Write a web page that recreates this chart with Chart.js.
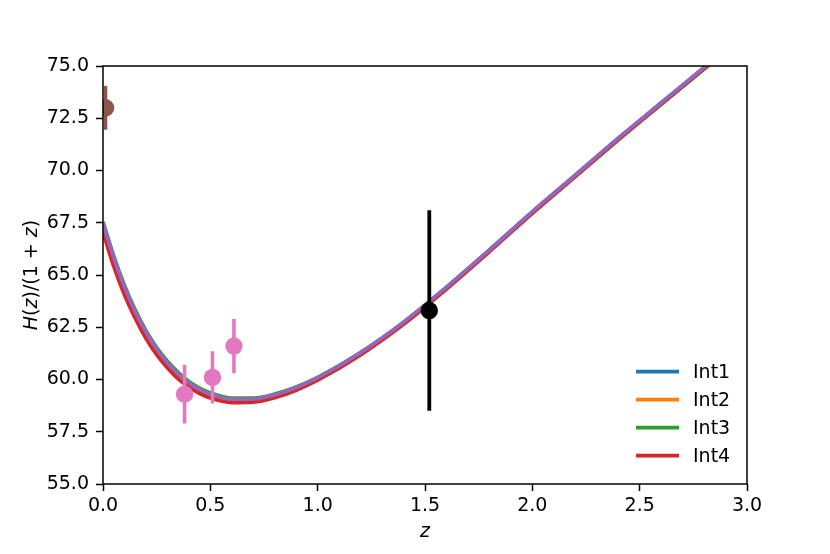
<!DOCTYPE html>
<html>
<head>
<meta charset="utf-8">
<script src="https://cdn.jsdelivr.net/npm/chart.js@4.4.1/dist/chart.umd.min.js"></script>
<style>
  html, body { margin: 0; padding: 0; background: #fff; }
  #wrap { width: 830px; height: 554px; }
</style>
</head>
<body>
<div id="wrap"><canvas id="chart" width="830" height="554"></canvas></div>
<script>
// redshift grid of the model curves
const zGrid = [0, 0.05, 0.1, 0.15, 0.2, 0.25, 0.3, 0.35, 0.4, 0.45, 0.5, 0.6, 0.7, 0.8, 0.9, 1.0, 1.2, 1.4, 1.6, 1.8, 2.0, 2.2, 2.4, 2.6, 2.8, 3.0];

// H(z)/(1+z) for each model
const int1 = [67.45, 65.80, 64.40, 63.23, 62.24, 61.43, 60.78, 60.25, 59.82, 59.51, 59.28, 59.04, 59.05, 59.25, 59.60, 60.07, 61.27, 62.72, 64.41, 66.19, 68.02, 69.77, 71.53, 73.23, 74.92, 76.65];
const int2 = [67.40, 65.76, 64.37, 63.21, 62.22, 61.42, 60.77, 60.24, 59.81, 59.50, 59.27, 59.04, 59.05, 59.25, 59.60, 60.07, 61.27, 62.72, 64.40, 66.18, 68.01, 69.76, 71.52, 73.22, 74.91, 76.64];
const int3 = [67.55, 65.90, 64.50, 63.33, 62.34, 61.53, 60.87, 60.34, 59.90, 59.59, 59.36, 59.11, 59.11, 59.30, 59.64, 60.10, 61.29, 62.73, 64.40, 66.17, 67.99, 69.73, 71.48, 73.17, 74.85, 76.57];
const int4 = [67.05, 65.42, 64.05, 62.93, 61.97, 61.19, 60.56, 60.03, 59.64, 59.33, 59.12, 58.90, 58.92, 59.13, 59.49, 59.97, 61.18, 62.64, 64.33, 66.12, 67.95, 69.71, 71.47, 73.18, 74.87, 76.60];
const reference = [67.50, 65.84, 64.43, 63.26, 62.27, 61.46, 60.80, 60.27, 59.84, 59.53, 59.30, 59.06, 59.07, 59.27, 59.62, 60.09, 61.29, 62.74, 64.42, 66.20, 68.03, 69.78, 71.54, 73.24, 74.93, 76.66];

// measurements
const localZ = [0.012];
const localH = [73.0];
const localErr = [1.05];

const baoZ = [0.38, 0.51, 0.61];
const baoH = [59.3, 60.1, 61.6];
const baoErr = [1.4, 1.25, 1.3];

const highZ = [1.52];
const highH = [63.3];
const highErr = [4.8];

const xTicks = [0, 0.5, 1.0, 1.5, 2.0, 2.5, 3.0];
const yTicks = [55, 57.5, 60, 62.5, 65, 67.5, 70, 72.5, 75];

const FONT = "'DejaVu Sans', sans-serif";

function curve(label, ys, color, order) {
  return {
    type: 'line', label: label,
    data: zGrid.map((z, i) => ({ x: z, y: ys[i] })),
    borderColor: color, backgroundColor: color, borderWidth: 3.8,
    pointRadius: 0, cubicInterpolationMode: 'monotone',
    clip: 0, order: order
  };
}

function errBars(zs, hs, es, color, width) {
  const pts = [];
  zs.forEach((z, i) => {
    pts.push({ x: z, y: hs[i] - es[i] }, { x: z, y: hs[i] + es[i] }, { x: z, y: null });
  });
  return {
    type: 'line', label: '', data: pts, borderColor: color, borderWidth: width,
    pointRadius: 0, spanGaps: false, clip: 0, order: 1, borderCapStyle: 'butt'
  };
}

function points(zs, hs, color) {
  return {
    type: 'scatter', label: '', data: zs.map((z, i) => ({ x: z, y: hs[i] })),
    backgroundColor: color, borderWidth: 0, pointRadius: 8.7, pointHoverRadius: 8.7,
    clip: 0, order: 0
  };
}

const legendItems = [
  { label: 'Int1', color: '#1f77b4' },
  { label: 'Int2', color: '#ff7f0e' },
  { label: 'Int3', color: '#2ca02c' },
  { label: 'Int4', color: '#d62728' }
];

// clip every dataset to the axes box, like matplotlib does
const clipToAxes = {
  id: 'clipToAxes',
  beforeDatasetDraw(chart) {
    const { ctx, chartArea: a } = chart;
    ctx.save();
    ctx.beginPath();
    ctx.rect(a.left, a.top, a.right - a.left, a.bottom - a.top);
    ctx.clip();
  },
  afterDatasetDraw(chart) {
    chart.ctx.restore();
  }
};

const decor = {
  id: 'decor',
  afterDraw(chart) {
    const { ctx, chartArea: a } = chart;
    ctx.save();
    // frame
    ctx.strokeStyle = '#000';
    ctx.lineWidth = 1.5;
    ctx.strokeRect(a.left, a.top, a.right - a.left, a.bottom - a.top);

    // legend
    ctx.font = '19px ' + FONT;
    ctx.textBaseline = 'middle';
    ctx.textAlign = 'left';
    legendItems.forEach((it, i) => {
      const y = a.bottom - 28.3 - 28 * (legendItems.length - 1 - i);
      ctx.strokeStyle = it.color;
      ctx.lineWidth = 3.8;
      ctx.beginPath();
      ctx.moveTo(a.right - 111, y);
      ctx.lineTo(a.right - 68, y);
      ctx.stroke();
      ctx.fillStyle = '#000';
      ctx.fillText(it.label, a.right - 54, y + 1);
    });

    // x title
    ctx.font = 'italic 19px ' + FONT;
    ctx.textAlign = 'center';
    ctx.textBaseline = 'alphabetic';
    ctx.fillText('z', (a.left + a.right) / 2, 537);

    // y title with italic variables
    const parts = [['H', true], ['(', false], ['z', true], [')/(1', false], [' + ', false], ['z', true], [')', false]];
    const fontOf = it => (it ? 'italic ' : '') + '19px ' + FONT;
    let total = 0;
    parts.forEach(p => { ctx.font = fontOf(p[1]); total += ctx.measureText(p[0]).width; });
    ctx.translate(37, (a.top + a.bottom) / 2);
    ctx.rotate(-Math.PI / 2);
    ctx.textAlign = 'left';
    let x = -total / 2;
    parts.forEach(p => {
      ctx.font = fontOf(p[1]);
      ctx.fillText(p[0], x, 0);
      x += ctx.measureText(p[0]).width;
    });
    ctx.restore();
  }
};

new Chart(document.getElementById('chart'), {
  data: {
    datasets: [
      curve('Int1', int1, '#1f77b4', 7),
      curve('Int2', int2, '#ff7f0e', 6),
      curve('Int3', int3, '#2ca02c', 5),
      curve('Int4', int4, '#d62728', 4),
      curve('', reference, '#9467bd', 3),
      errBars(localZ, localH, localErr, '#8c564b', 3.4),
      errBars(baoZ, baoH, baoErr, '#e377c2', 3.6),
      errBars(highZ, highH, highErr, '#000000', 3.8),
      points(localZ, localH, '#8c564b'),
      points(baoZ, baoH, '#e377c2'),
      points(highZ, highH, '#000000')
    ]
  },
  options: {
    responsive: false,
    animation: false,
    devicePixelRatio: 1,
    layout: { padding: { left: 0, right: 83, top: 66, bottom: 0 } },
    plugins: { legend: { display: false }, tooltip: { enabled: false }, title: { display: false } },
    scales: {
      x: {
        type: 'linear', min: 0, max: 3,
        afterFit(s) { s.height = 70; },
        afterBuildTicks(s) { s.ticks = xTicks.map(v => ({ value: v })); },
        grid: { drawOnChartArea: false, drawTicks: true, tickLength: 7, tickWidth: 1.5, tickColor: '#000' },
        border: { display: false },
        ticks: { color: '#000', font: { family: FONT, size: 19 }, padding: 4, maxRotation: 0,
                 callback: v => Number(v).toFixed(1) }
      },
      y: {
        type: 'linear', min: 55, max: 75,
        afterFit(s) { s.width = 103; },
        afterBuildTicks(s) { s.ticks = yTicks.map(v => ({ value: v })); },
        grid: { drawOnChartArea: false, drawTicks: true, tickLength: 7, tickWidth: 1.5, tickColor: '#000' },
        border: { display: false },
        ticks: { color: '#000', font: { family: FONT, size: 19 }, padding: 7,
                 callback: v => Number(v).toFixed(1) }
      }
    }
  },
  plugins: [clipToAxes, decor]
});
</script>
</body>
</html>
